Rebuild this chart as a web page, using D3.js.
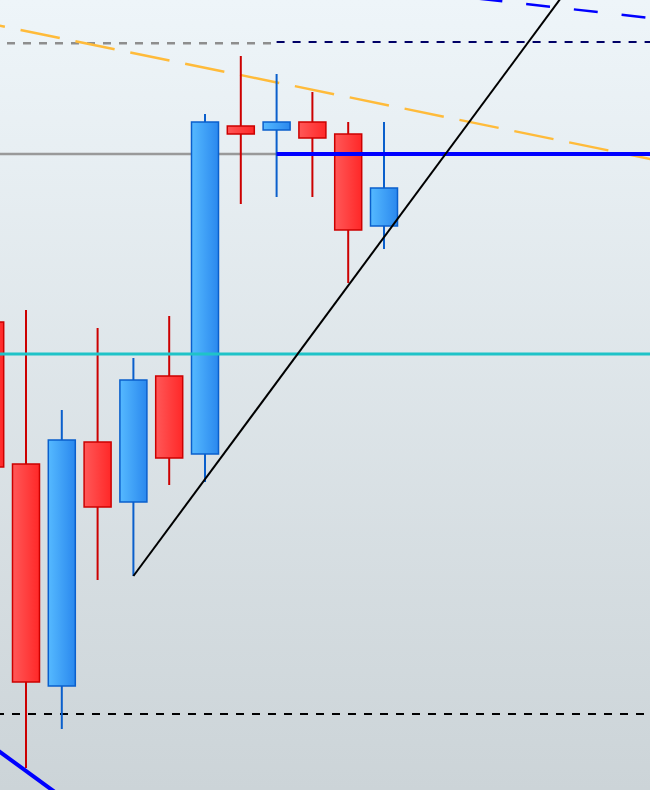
<!DOCTYPE html>
<html>
<head>
<meta charset="utf-8">
<script src="https://cdn.jsdelivr.net/npm/d3@7"></script>
<style>
  html, body { margin: 0; padding: 0; background: #fff; }
  svg { display: block; }
</style>
</head>
<body>
<div id="chart"></div>
<script>
// ---- data ----
const idx   = [0, 1, 2, 3, 4, 5, 6, 7, 8, 9, 10, 11];
const open  = [167.8, 153.6, 131.4, 155.8, 149.8, 162.4, 154.6, 187.4, 187.0, 187.8, 186.6, 177.4];
const high  = [169.0, 169.0, 159.0, 167.2, 164.2, 168.4, 188.6, 194.4, 192.6, 190.8, 187.8, 187.8];
const low   = [150.0, 123.2, 127.1, 142.0, 142.4, 151.5, 151.8, 179.6, 180.3, 180.3, 171.7, 175.1];
const close = [153.3, 131.8, 156.0, 149.3, 162.0, 154.2, 187.8, 186.6, 187.8, 186.2, 177.0, 181.2];

// horizontal levels
const levelResist = 184.6;   // grey (past) / blue (from candle 8)
const levelCyan   = 164.6;
const levelTopGrey = 195.67;
const levelTopNavy = 195.8;
const levelBottom  = 128.6;

// trend lines [index, price]
const trendBlack  = [[4, 142.4], [16, 200.48]];
const trendOrange = [[0, 197.63], [19, 183.69]];
const trendBlueTop = [[13, 200.39], [19, 197.98]];
const trendBlueBot = [[0, 125.52], [2, 120.29]];

const W = 650, H = 790;
const x = d3.scaleLinear().domain([1, 11]).range([26, 384]);
const y = d3.scaleLinear().domain([121, 200]).range([H, 0]);

const svg = d3.select("#chart").append("svg").attr("width", W).attr("height", H);
const defs = svg.append("defs");

const bg = defs.append("linearGradient").attr("id", "bg").attr("x1", 0).attr("y1", 0).attr("x2", 0).attr("y2", 1);
bg.append("stop").attr("offset", "0%").attr("stop-color", "#eef5f9");
bg.append("stop").attr("offset", "100%").attr("stop-color", "#ccd4d8");

const gRed = defs.append("linearGradient").attr("id", "gRed").attr("x1", 0).attr("y1", 0).attr("x2", 1).attr("y2", 0);
gRed.append("stop").attr("offset", "0%").attr("stop-color", "#ff5858");
gRed.append("stop").attr("offset", "100%").attr("stop-color", "#ff2828");
const gBlue = defs.append("linearGradient").attr("id", "gBlue").attr("x1", 0).attr("y1", 0).attr("x2", 1).attr("y2", 0);
gBlue.append("stop").attr("offset", "0%").attr("stop-color", "#55b9ff");
gBlue.append("stop").attr("offset", "100%").attr("stop-color", "#2a88ee");

svg.append("rect").attr("width", W).attr("height", H).attr("fill", "url(#bg)");

// horizontal lines
svg.append("line").attr("x1", 0).attr("x2", x(8)).attr("y1", y(levelResist)).attr("y2", y(levelResist))
  .attr("stroke", "#999999").attr("stroke-width", 2.5);
svg.append("line").attr("x1", 7).attr("x2", x(8) - 4).attr("y1", y(levelTopGrey)).attr("y2", y(levelTopGrey))
  .attr("stroke", "#8e8e8e").attr("stroke-width", 2.5).attr("stroke-dasharray", "8,8");
svg.append("line").attr("x1", x(8)).attr("x2", W).attr("y1", y(levelTopNavy)).attr("y2", y(levelTopNavy))
  .attr("stroke", "#000066").attr("stroke-width", 2).attr("stroke-dasharray", "8,8");
svg.append("line").attr("x1", 0).attr("x2", 644).attr("y1", y(levelBottom)).attr("y2", y(levelBottom))
  .attr("stroke", "#000000").attr("stroke-width", 2).attr("stroke-dasharray", "8,8").attr("stroke-dashoffset", 4);

const line = d3.line().x(d => x(d[0])).y(d => y(d[1]));

svg.append("path").attr("d", line(trendOrange)).attr("fill", "none")
  .attr("stroke", "#ffbb3a").attr("stroke-width", 2.5).attr("stroke-dasharray", "40,16").attr("stroke-dashoffset", 25);
svg.append("path").attr("d", line(trendBlueTop)).attr("fill", "none")
  .attr("stroke", "#0000ff").attr("stroke-width", 2.5).attr("stroke-dasharray", "24,24").attr("stroke-dashoffset", 25);

// candles
const cg = svg.append("g");
idx.forEach((i, k) => {
  const up = close[k] >= open[k];
  const wc = up ? "#0a5fcc" : "#cc0000";
  const cx = x(i);
  cg.append("line").attr("x1", cx).attr("x2", cx).attr("y1", y(high[k])).attr("y2", y(low[k]))
    .attr("stroke", wc).attr("stroke-width", 2);
  const top = y(Math.max(open[k], close[k])), bot = y(Math.min(open[k], close[k]));
  cg.append("rect").attr("x", cx - 13.5).attr("y", top).attr("width", 27).attr("height", Math.max(1, bot - top))
    .attr("fill", up ? "url(#gBlue)" : "url(#gRed)").attr("stroke", wc).attr("stroke-width", 1.5);
});

// lines over candles
svg.append("line").attr("x1", 0).attr("x2", W).attr("y1", y(levelCyan)).attr("y2", y(levelCyan))
  .attr("stroke", "#1fc3c8").attr("stroke-width", 3);
svg.append("line").attr("x1", x(8)).attr("x2", W).attr("y1", y(levelResist)).attr("y2", y(levelResist))
  .attr("stroke", "#0000ff").attr("stroke-width", 4);
svg.append("path").attr("d", line(trendBlack)).attr("fill", "none").attr("stroke", "#000").attr("stroke-width", 2);
svg.append("path").attr("d", line(trendBlueBot)).attr("fill", "none").attr("stroke", "#0000ff").attr("stroke-width", 4);
</script>
</body>
</html>
